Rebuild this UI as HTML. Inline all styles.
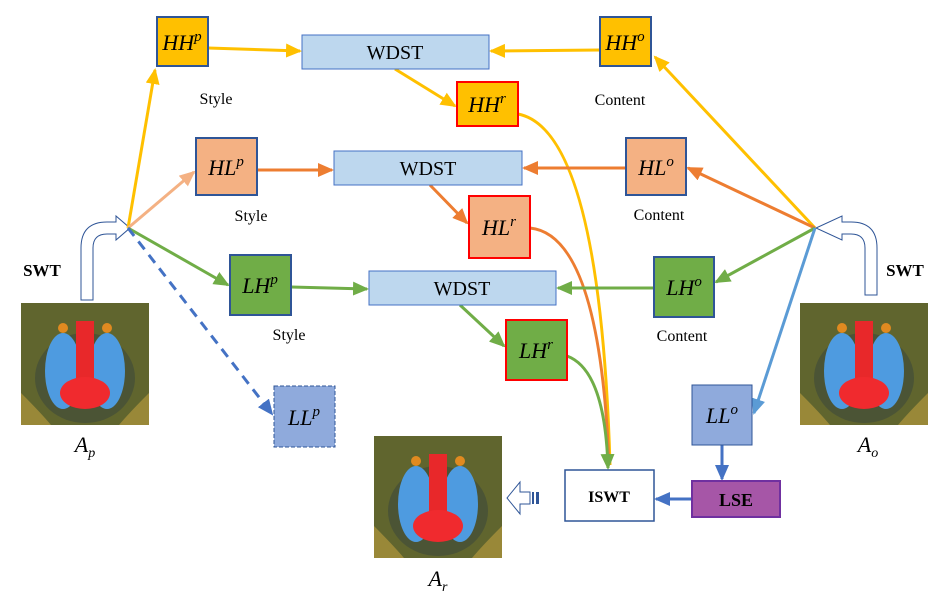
<!DOCTYPE html>
<html><head><meta charset="utf-8"><style>
body{margin:0;background:#fff}
svg{display:block}
text{font-family:"Liberation Serif",serif}
.m{font-style:italic;font-size:22px}
.s{font-size:16px}
</style></head><body>
<svg width="934" height="597" viewBox="0 0 934 597" xmlns="http://www.w3.org/2000/svg">
<defs>
<marker id="ay" markerWidth="16" markerHeight="14" refX="14" refY="7" orient="auto" markerUnits="userSpaceOnUse" viewBox="0 0 16 14"><path d="M0,0L16,7L0,14z" fill="#FFC000"/></marker>
<marker id="ao" markerWidth="16" markerHeight="14" refX="14" refY="7" orient="auto" markerUnits="userSpaceOnUse" viewBox="0 0 16 14"><path d="M0,0L16,7L0,14z" fill="#ED7D31"/></marker>
<marker id="ap" markerWidth="16" markerHeight="14" refX="14" refY="7" orient="auto" markerUnits="userSpaceOnUse" viewBox="0 0 16 14"><path d="M0,0L16,7L0,14z" fill="#F4B183"/></marker>
<marker id="ag" markerWidth="16" markerHeight="14" refX="14" refY="7" orient="auto" markerUnits="userSpaceOnUse" viewBox="0 0 16 14"><path d="M0,0L16,7L0,14z" fill="#70AD47"/></marker>
<marker id="ab" markerWidth="16" markerHeight="14" refX="14" refY="7" orient="auto" markerUnits="userSpaceOnUse" viewBox="0 0 16 14"><path d="M0,0L16,7L0,14z" fill="#5B9BD5"/></marker>
<marker id="ad" markerWidth="16" markerHeight="14" refX="14" refY="7" orient="auto" markerUnits="userSpaceOnUse" viewBox="0 0 16 14"><path d="M0,0L16,7L0,14z" fill="#4472C4"/></marker>
<g id="bab">
<rect width="128" height="122" fill="#4a5228"/>
<rect width="128" height="122" fill="#8a8a3a" opacity=".35"/>
<ellipse cx="64" cy="75" rx="50" ry="45" fill="#3d4a3a" opacity=".6"/>
<ellipse cx="42" cy="68" rx="18" ry="38" fill="#4e9be0"/>
<ellipse cx="86" cy="68" rx="18" ry="38" fill="#4e9be0"/>
<rect x="55" y="18" width="18" height="70" fill="#e8282a"/>
<ellipse cx="64" cy="90" rx="25" ry="16" fill="#f02a2e"/>
<circle cx="42" cy="25" r="5" fill="#e08a20"/>
<circle cx="86" cy="25" r="5" fill="#e08a20"/>
<path d="M0,90 Q20,110 30,122 L0,122z" fill="#c0a040" opacity=".6"/>
<path d="M128,90 Q108,110 98,122 L128,122z" fill="#c0a040" opacity=".6"/>
</g>
</defs>

<use href="#bab" x="21" y="303"/>
<use href="#bab" x="800" y="303"/>
<use href="#bab" x="374" y="436"/>

<path d="M81,300 L81,248 Q81,222 107,222 L116,222 L116,216 L130,228 L116,240 L116,234 L107,234 Q93,234 93,248 L93,300 Z" fill="#fff" stroke="#2F5597" stroke-width="1"/>
<path d="M877,295 L877,248 Q877,222 851,222 L842,222 L842,216 L816,228 L842,240 L842,234 L851,234 Q865,234 865,248 L865,295 Z" fill="#fff" stroke="#2F5597" stroke-width="1"/>
<path d="M530,492 L520,492 L520,482 L507,498 L520,514 L520,504 L530,504 Z" fill="#fff" stroke="#2F5597" stroke-width="1"/>
<rect x="532" y="492" width="2" height="12" fill="#2F5597"/><rect x="536" y="492" width="3" height="12" fill="#2F5597"/>

<g fill="none" stroke-width="3">
<line x1="128" y1="228" x2="155" y2="70" stroke="#FFC000" marker-end="url(#ay)"/>
<line x1="208" y1="48" x2="300" y2="51" stroke="#FFC000" marker-end="url(#ay)"/>
<line x1="600" y1="50" x2="491" y2="51" stroke="#FFC000" marker-end="url(#ay)"/>
<line x1="395" y1="69" x2="455" y2="106" stroke="#FFC000" marker-end="url(#ay)"/>
<line x1="815" y1="228" x2="655" y2="57" stroke="#FFC000" marker-end="url(#ay)"/>
<path d="M518,114 Q600,130 610,465" stroke="#FFC000"/>
<line x1="128" y1="228" x2="194" y2="172" stroke="#F4B183" marker-end="url(#ap)"/>
<line x1="257" y1="170" x2="332" y2="170" stroke="#ED7D31" marker-end="url(#ao)"/>
<line x1="626" y1="168" x2="524" y2="168" stroke="#ED7D31" marker-end="url(#ao)"/>
<line x1="430" y1="185" x2="467" y2="223" stroke="#ED7D31" marker-end="url(#ao)"/>
<line x1="815" y1="228" x2="688" y2="168" stroke="#ED7D31" marker-end="url(#ao)"/>
<path d="M530,228 Q600,235 609,465" stroke="#ED7D31"/>
<line x1="128" y1="228" x2="228" y2="285" stroke="#70AD47" marker-end="url(#ag)"/>
<line x1="291" y1="287" x2="367" y2="289" stroke="#70AD47" marker-end="url(#ag)"/>
<line x1="654" y1="288" x2="558" y2="288" stroke="#70AD47" marker-end="url(#ag)"/>
<line x1="460" y1="305" x2="504" y2="346" stroke="#70AD47" marker-end="url(#ag)"/>
<line x1="815" y1="228" x2="716" y2="282" stroke="#70AD47" marker-end="url(#ag)"/>
<path d="M567,356 Q605,370 608,468" stroke="#70AD47" marker-end="url(#ag)"/>
<line x1="815" y1="228" x2="754" y2="413" stroke="#5B9BD5" marker-end="url(#ab)"/>
<line x1="128" y1="228" x2="272" y2="414" stroke="#4472C4" stroke-dasharray="10,7" marker-end="url(#ad)"/>
<line x1="722" y1="445" x2="722" y2="479" stroke="#4472C4" marker-end="url(#ad)"/>
<line x1="692" y1="499" x2="656" y2="499" stroke="#4472C4" marker-end="url(#ad)"/>
</g>

<g fill="#BDD7EE" stroke="#4472C4" stroke-width="1">
<rect x="302" y="35" width="187" height="34"/>
<rect x="334" y="151" width="188" height="34"/>
<rect x="369" y="271" width="187" height="34"/>
</g>
<g font-size="20" text-anchor="middle">
<text x="395" y="59">WDST</text><text x="428" y="175">WDST</text><text x="462" y="295">WDST</text>
</g>

<g stroke-width="2">
<rect x="157" y="17" width="51" height="49" fill="#FFC000" stroke="#2F5597"/>
<rect x="600" y="17" width="51" height="49" fill="#FFC000" stroke="#2F5597"/>
<rect x="457" y="82" width="61" height="44" fill="#FFC000" stroke="#FF0000"/>
<rect x="196" y="138" width="61" height="57" fill="#F4B183" stroke="#2F5597"/>
<rect x="626" y="138" width="60" height="57" fill="#F4B183" stroke="#2F5597"/>
<rect x="469" y="196" width="61" height="62" fill="#F4B183" stroke="#FF0000"/>
<rect x="230" y="255" width="61" height="60" fill="#70AD47" stroke="#2F5597"/>
<rect x="654" y="257" width="60" height="60" fill="#70AD47" stroke="#2F5597"/>
<rect x="506" y="320" width="61" height="60" fill="#70AD47" stroke="#FF0000"/>
<rect x="274" y="386" width="61" height="61" fill="#8FAADC" stroke="#2F5597" stroke-width="1" stroke-dasharray="4,2"/>
<rect x="692" y="385" width="60" height="60" fill="#8FAADC" stroke="#2F5597" stroke-width="1"/>
<rect x="692" y="481" width="88" height="36" fill="#A656A7" stroke="#7030A0"/>
<rect x="565" y="470" width="89" height="51" fill="#fff" stroke="#2F5597" stroke-width="1.5"/>
</g>
<g class="m" text-anchor="middle">
<text x="182" y="50">HH<tspan font-size="15" dy="-9">p</tspan></text>
<text x="625" y="50">HH<tspan font-size="15" dy="-9">o</tspan></text>
<text x="487" y="112">HH<tspan font-size="15" dy="-9">r</tspan></text>
<text x="226" y="175">HL<tspan font-size="15" dy="-9">p</tspan></text>
<text x="656" y="175">HL<tspan font-size="15" dy="-9">o</tspan></text>
<text x="499" y="235">HL<tspan font-size="15" dy="-9">r</tspan></text>
<text x="260" y="293">LH<tspan font-size="15" dy="-9">p</tspan></text>
<text x="684" y="295">LH<tspan font-size="15" dy="-9">o</tspan></text>
<text x="536" y="358">LH<tspan font-size="15" dy="-9">r</tspan></text>
<text x="304" y="425">LL<tspan font-size="15" dy="-9">p</tspan></text>
<text x="722" y="423">LL<tspan font-size="15" dy="-9">o</tspan></text>
<text x="85" y="452">A<tspan font-size="14" dy="5">p</tspan></text>
<text x="868" y="452">A<tspan font-size="14" dy="5">o</tspan></text>
<text x="438" y="586">A<tspan font-size="14" dy="5">r</tspan></text>
</g>
<g class="s" text-anchor="middle">
<text x="216" y="104">Style</text><text x="620" y="105">Content</text>
<text x="251" y="221">Style</text><text x="659" y="220">Content</text>
<text x="289" y="340">Style</text><text x="682" y="341">Content</text>
</g>
<g font-weight="bold" text-anchor="middle">
<text x="42" y="276" font-size="17">SWT</text>
<text x="905" y="276" font-size="17">SWT</text>
<text x="609" y="502" font-size="16">ISWT</text>
<text x="736" y="506" font-size="18">LSE</text>
</g>
</svg>
</body></html>
